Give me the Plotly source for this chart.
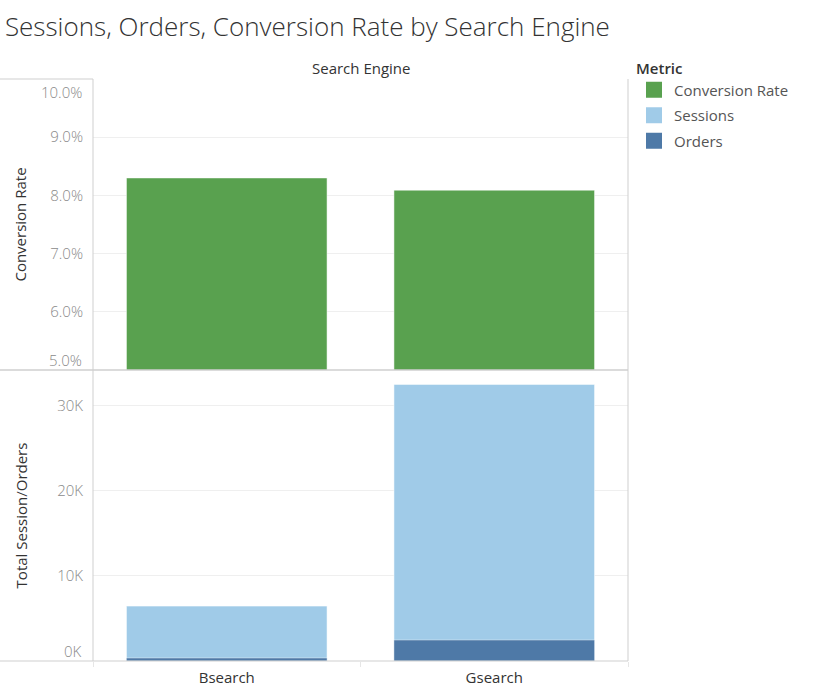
import plotly.graph_objects as go

engines = ["Bsearch", "Gsearch"]
conversion_rate = [0.0830, 0.0809]
sessions = [6440, 32460]
orders = [350, 2460]

metric_names = ["Conversion Rate", "Sessions", "Orders"]
metric_colors = ["#59a14f", "#a0cbe8", "#4e79a7"]

cr_ticks = [0.05, 0.06, 0.07, 0.08, 0.09, 0.10]
cr_labels = ["5.0%", "6.0%", "7.0%", "8.0%", "9.0%", "10.0%"]
so_ticks = [0, 10000, 20000, 30000]
so_labels = ["0K", "10K", "20K", "30K"]

FONT = "Open Sans"
xpos = list(range(len(engines)))

fig = go.Figure()
fig.add_trace(go.Bar(x=xpos, y=conversion_rate, width=0.75, marker=dict(color=metric_colors[0], line=dict(color="rgba(255,255,255,0.5)", width=1)),
                     xaxis="x", yaxis="y", showlegend=False, hoverinfo="skip"))
fig.add_trace(go.Bar(x=xpos, y=sessions, width=0.75, marker=dict(color=metric_colors[1], line=dict(color="rgba(255,255,255,0.5)", width=1)),
                     xaxis="x2", yaxis="y2", showlegend=False, hoverinfo="skip"))
fig.add_trace(go.Bar(x=xpos, y=orders, width=0.75, marker=dict(color=metric_colors[2], line=dict(color="rgba(255,255,255,0.4)", width=1)),
                     xaxis="x2", yaxis="y2", showlegend=False, hoverinfo="skip"))

for name, col in zip(metric_names, metric_colors):
    fig.add_trace(go.Scatter(x=[None], y=[None], mode="markers", name=name, legendgroup=name,
                             marker=dict(symbol="square", size=16, color=col),
                             xaxis="x2", yaxis="y2", showlegend=True))

grid = "#efefef"
axis_font = dict(family=FONT, size=15, color="#8a8a8a", weight=300)
dark_font = dict(family=FONT, size=15, color="#333333")

fig.update_layout(
    width=818, height=690,
    margin=dict(l=93, r=190, t=79, b=29, autoexpand=False),
    paper_bgcolor="white", plot_bgcolor="white",
    barmode="overlay",
    font=dict(family=FONT, color="#333333"),
    title=dict(text="Sessions, Orders, Conversion Rate by Search Engine", x=0.006, xanchor="left",
               y=1 - 27 / 690, yanchor="middle", font=dict(family=FONT, size=26, color="#333333", weight=300)),
    xaxis=dict(domain=[0, 1], range=[-0.5, 1.5], anchor="y", showticklabels=False, showgrid=False,
               zeroline=False, showline=False, fixedrange=True, automargin=False),
    xaxis2=dict(domain=[0, 1], range=[-0.5, 1.5], anchor="y2", tickvals=xpos, ticktext=engines,
                tickfont=dark_font, showgrid=False, zeroline=False, automargin=False,
                showline=False, ticks="", ticklabelstandoff=6,
                minor=dict(tickvals=[-0.5, 0.5, 1.5], ticks="outside", ticklen=5, tickcolor="#e6e6e6", showgrid=False)),
    yaxis=dict(domain=[0.5, 1], range=[0.05, 0.10], tickvals=cr_ticks[1:-1], ticktext=cr_labels[1:-1],
               tickfont=axis_font, gridcolor=grid, showgrid=True, zeroline=False, showline=False,
               ticks="", ticklabelstandoff=9, automargin=False,
               title=dict(text="Conversion Rate", font=dark_font, standoff=19)),
    yaxis2=dict(domain=[0, 0.5], range=[0, 34150], tickvals=so_ticks[1:], ticktext=so_labels[1:],
                tickfont=axis_font, gridcolor=grid, showgrid=True, zeroline=False, showline=False,
                ticks="", ticklabelstandoff=9, automargin=False,
                title=dict(text="Total Session/Orders", font=dark_font, standoff=25)),
    legend=dict(title=dict(text="Metric", font=dict(family=FONT, size=15, color="#333333", weight=600)),
                xref="container", yref="container", x=634 / 818, y=1 - 54 / 690, xanchor="left", yanchor="top",
                font=dict(family=FONT, size=15, color="#555555"), itemsizing="trace", tracegroupgap=3,
                bgcolor="rgba(0,0,0,0)"),
)

# edge tick labels, shifted inward like the reference
fig.add_annotation(x=0, xref="paper", xanchor="right", xshift=-9, y=cr_ticks[-1], yref="y", yshift=-13,
                   text=cr_labels[-1], showarrow=False, font=axis_font)
fig.add_annotation(x=0, xref="paper", xanchor="right", xshift=-9, y=cr_ticks[0], yref="y", yshift=10,
                   text=cr_labels[0], showarrow=False, font=axis_font)
fig.add_annotation(x=0, xref="paper", xanchor="right", xshift=-9, y=so_ticks[0], yref="y2", yshift=10,
                   text=so_labels[0], showarrow=False, font=axis_font)

# header
fig.add_annotation(x=0.5, xref="paper", y=1, yref="paper", yshift=11, yanchor="middle", text="Search Engine",
                   showarrow=False, font=dark_font)

line = dict(color="#cfcfcf", width=1)
left_ext = -93 / 535
fig.add_shape(type="line", xref="paper", yref="paper", x0=0, x1=0, y0=0, y1=1, line=line)
fig.add_shape(type="line", xref="paper", yref="paper", x0=1, x1=1, y0=0, y1=1, line=line)
fig.add_shape(type="line", xref="paper", yref="paper", x0=left_ext, x1=0, y0=1, y1=1, line=line)
fig.add_shape(type="line", xref="paper", yref="paper", x0=left_ext, x1=1, y0=0.5, y1=0.5, line=dict(color="#cfcfcf", width=1.5))
fig.add_shape(type="line", xref="paper", yref="paper", x0=left_ext, x1=1, y0=0, y1=0, line=line)

fig.write_html("out.html")
